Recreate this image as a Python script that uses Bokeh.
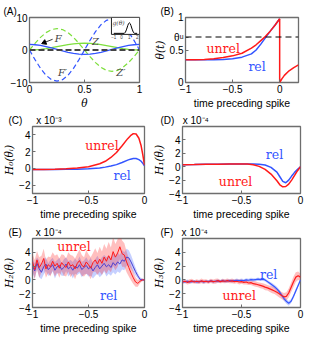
import numpy as np
from bokeh.plotting import figure
from bokeh.layouts import column, row
from bokeh.models import (Label, Span, Range1d, FixedTicker, CustomJSTickFormatter, Title)
from bokeh.embed import file_html
from bokeh.resources import INLINE

BLUE = "#3355ff"
RED = "#ff1a1a"
GREEN = "#7ddf3c"
FRAME = "#6e6e6e"
SANS = "Liberation Sans"
SERIF = "DejaVu Serif"
NB = "\u00a0"

# ---------------- Panel A ----------------
theta_A = [0, .05, .1, .15, .2, .25, .3, .35, .4, .45, .5, .55, .6, .65, .7, .75, .8, .85, .9, .95, 1]
F_A = [1.70, 1.62, 1.41, 1.07, 0.64, 0.17, -0.30, -0.73, -1.07, -1.29, -1.36, -1.29, -1.07, -0.73,
       -0.30, 0.17, 0.64, 1.07, 1.41, 1.62, 1.70]
Fp_A = [0, -2.97, -5.64, -7.77, -9.13, -9.6, -9.13, -7.77, -5.64, -2.97, 0, 2.97, 5.64, 7.77, 9.13,
        9.6, 9.13, 7.77, 5.64, 2.97, 0]
Z_A = [0, .05, .2, .43, .73, 1.05, 1.37, 1.67, 1.9, 2.05, 2.1, 2.05, 1.9, 1.67, 1.37, 1.05, .73, .43,
       .2, .05, 0]
Zp_A = [0, 2.04, 3.88, 5.34, 6.28, 6.6, 6.28, 5.34, 3.88, 2.04, 0, -2.04, -3.88, -5.34, -6.28, -6.6,
        -6.28, -5.34, -3.88, -2.04, 0]
A_xticks = [0, 0.5, 1]
A_yticks = [-10, 0, 10]
A_names = ["F", "Z", "F′", "Z′"]
A_name_x = [0.26, 0.6, 0.3, 0.83]
A_name_y = [3.6, 2.7, -6.8, -7.0]
arrowF_x = [0.21, 0.135]
arrowF_y = [3.3, 2.3]
# inset g(theta)
g_x = [-1.0, 0.35, 0.5, 0.65, 0.8, 0.9, 1.0, 1.1, 1.2, 1.35, 1.5, 1.65, 2.0]
g_y = [0, 0, 0.12, 0.4, 0.75, 0.93, 1.0, 0.93, 0.75, 0.4, 0.12, 0, 0]
g_ticks = [-1, 0, 1, 2]

# ---------------- Panel B ----------------
t_B = [-1, -0.9, -0.8, -0.7, -0.6, -0.5, -0.4, -0.3, -0.25, -0.2, -0.15, -0.1, -0.05, 0]
unrel_B = [0.35, 0.35, 0.355, 0.365, 0.385, 0.41, 0.45, 0.53, 0.58, 0.645, 0.71, 0.79, 0.88, 0.98]
rel_B = [0.35, 0.35, 0.35, 0.35, 0.355, 0.365, 0.39, 0.44, 0.5, 0.59, 0.69, 0.79, 0.88, 0.98]
t_reset = [0, 0, 0.025, 0.05, 0.1, 0.15, 0.2]
th_reset = [0.98, 0.0, 0.06, 0.11, 0.18, 0.23, 0.27]
theta_u = 0.7

# ---------------- Panel C ----------------
t_C = [-1, -0.9, -0.8, -0.7, -0.6, -0.5, -0.4, -0.35, -0.3, -0.25, -0.2, -0.15, -0.125, -0.1,
       -0.075, -0.05, -0.03, -0.015, 0]
unrel_C = [-0.12, -0.12, -0.1, -0.05, 0.05, 0.2, 0.55, 0.85, 1.3, 1.9, 2.7, 3.55, 3.9, 4.15, 4.1,
           3.6, 2.7, 1.6, 0.4]
rel_C = [-0.12, -0.12, -0.12, -0.11, -0.1, -0.05, 0.05, 0.15, 0.28, 0.45, 0.7, 0.98, 1.1, 1.18,
         1.17, 1.05, 0.85, 0.6, 0.3]

# ---------------- Panel D ----------------
t_D = [-1, -0.9, -0.8, -0.7, -0.6, -0.5, -0.45, -0.4, -0.35, -0.3, -0.25, -0.2, -0.175, -0.15,
       -0.125, -0.1, -0.075, -0.05, -0.025, 0]
unrel_D = [0.3, 0.32, 0.35, 0.38, 0.4, 0.42, 0.4, 0.3, 0.05, -0.4, -1.1, -2.1, -2.7, -3.0, -2.95,
           -2.6, -2.0, -1.3, -0.6, 0]
rel_D = [0.3, 0.32, 0.35, 0.38, 0.4, 0.42, 0.42, 0.4, 0.37, 0.25, -0.1, -0.8, -1.5, -2.2, -2.4,
         -2.0, -1.4, -0.85, -0.4, 0]

# ---------------- Panels E, F (noisy estimates with error bands) ----------------
t_N = np.round(np.arange(-50, 1) * 0.02, 2)
unrel_E = [2.6, 1.5, 2.9, 1.8, 2.3, 3.1, 1.6, 2.2, 1.9, 2.7,
           2.0, 2.4, 1.7, 2.5, 2.1, 1.8, 2.6, 2.0, 2.2, 1.6,
           2.4, 2.8, 2.1, 1.9, 2.6, 2.2, 1.7, 2.5, 2.9, 2.3,
           3.0, 2.4, 3.3, 2.7, 3.5, 2.9, 4.1, 3.3, 3.9, 4.8,
           3.8, 3.6, 2.6, 1.8, 1.0, 0.3, -0.3, -0.5, -0.2, 0.0, 0.0]
rel_E = [2.0, 1.3, 2.4, 1.6, 1.1, 1.9, 2.3, 1.5, 1.8, 2.2,
         1.4, 1.9, 2.1, 1.5, 1.8, 2.3, 1.6, 1.9, 1.4, 2.0,
         1.7, 2.2, 1.5, 1.8, 2.1, 1.6, 1.9, 1.3, 1.8, 2.2,
         1.6, 2.0, 2.4, 1.9, 2.2, 1.8, 2.5, 2.1, 2.6, 2.3,
         2.9, 2.7, 3.3, 3.2, 2.6, 1.9, 1.2, 0.6, 0.1, 0.0, 0.0]
unrel_E_err = [1.2, 1.4, 1.3, 1.5, 1.2, 1.4, 1.3, 1.2, 1.4, 1.3,
               1.5, 1.3, 1.4, 1.2, 1.5, 1.3, 1.4, 1.6, 1.3, 1.5,
               1.4, 1.6, 1.5, 1.4, 1.7, 1.5, 1.6, 1.4, 1.7, 1.6,
               1.8, 1.7, 1.9, 1.8, 2.0, 1.8, 2.1, 1.9, 2.0, 1.8,
               1.9, 1.7, 1.5, 1.3, 1.1, 0.9, 0.7, 0.5, 0.3, 0.2, 0.1]
rel_E_err = [1.0, 1.1, 0.9, 1.2, 1.0, 1.1, 1.0, 0.9, 1.1, 1.0,
             1.2, 1.0, 1.1, 0.9, 1.2, 1.0, 1.1, 1.0, 1.2, 1.1,
             1.0, 1.2, 1.1, 1.0, 1.2, 1.1, 1.3, 1.1, 1.2, 1.3,
             1.2, 1.3, 1.2, 1.4, 1.3, 1.2, 1.4, 1.3, 1.4, 1.3,
             1.4, 1.3, 1.2, 1.1, 1.0, 0.8, 0.6, 0.4, 0.3, 0.2, 0.1]
unrel_F = [-0.3, -0.2, -0.35, -0.25, -0.15, -0.3, -0.2, -0.3, -0.15, -0.25,
           -0.2, -0.3, -0.15, -0.25, -0.2, -0.1, -0.25, -0.15, -0.2, -0.1,
           -0.2, -0.15, -0.25, -0.2, -0.3, -0.25, -0.35, -0.3, -0.45, -0.4,
           -0.55, -0.6, -0.7, -0.8, -0.9, -1.05, -1.15, -1.3, -1.45, -1.6,
           -1.8, -2.0, -2.25, -2.45, -2.4, -1.9, -1.1, -0.3, 0.4, 0.6, 0.4]
rel_F = [-0.25, -0.3, -0.2, -0.3, -0.25, -0.2, -0.3, -0.25, -0.2, -0.3,
         -0.2, -0.25, -0.15, -0.25, -0.2, -0.15, -0.2, -0.1, -0.2, -0.15,
         -0.1, -0.15, -0.1, -0.05, -0.1, -0.05, -0.1, 0.0, -0.05, 0.05,
         0.0, 0.05, 0.1, 0.05, 0.1, 0.0, -0.25, -0.5, -0.75, -1.0,
         -1.3, -1.7, -2.2, -2.7, -3.1, -3.4, -3.1, -2.4, -1.6, -0.8, 0.0]
unrel_F_err = [0.3, 0.25, 0.3, 0.35, 0.3, 0.25, 0.3, 0.3, 0.35, 0.3,
               0.3, 0.25, 0.3, 0.3, 0.35, 0.3, 0.25, 0.3, 0.3, 0.3,
               0.3, 0.35, 0.3, 0.3, 0.35, 0.3, 0.3, 0.35, 0.3, 0.35,
               0.35, 0.4, 0.35, 0.4, 0.4, 0.45, 0.4, 0.45, 0.5, 0.45,
               0.5, 0.55, 0.5, 0.55, 0.6, 0.65, 0.7, 0.75, 0.7, 0.6, 0.5]
rel_F_err = [0.25, 0.2, 0.25, 0.2, 0.25, 0.2, 0.25, 0.25, 0.2, 0.25,
             0.2, 0.25, 0.2, 0.25, 0.2, 0.25, 0.2, 0.25, 0.2, 0.25,
             0.2, 0.25, 0.2, 0.25, 0.2, 0.25, 0.2, 0.25, 0.2, 0.25,
             0.25, 0.2, 0.25, 0.2, 0.25, 0.2, 0.25, 0.25, 0.3, 0.3,
             0.3, 0.3, 0.3, 0.35, 0.35, 0.35, 0.3, 0.3, 0.3, 0.25, 0.2]

t_ticks = [-1, -0.5, 0]
H_yticks = [-4, -2, 0, 2, 4]
C_yticks = [-2, 0, 2, 4]
B_yticks = [0, 0.5, theta_u, 1]

fmt = CustomJSTickFormatter(code="return String(tick).replace('-', '\u2212')")
fmtB = CustomJSTickFormatter(
    code="if (Math.abs(tick - 0.7) < 1e-9) { return '\u03b8\u1d58'; } return String(tick);")


def make_fig(w, h, xr, yr, bl, br, bt, bb, xticks, yticks):
    p = figure(width=w, height=h, x_range=Range1d(*xr), y_range=Range1d(*yr),
               output_backend="svg", toolbar_location=None,
               min_border_left=bl, min_border_right=br, min_border_top=bt, min_border_bottom=bb)
    p.grid.visible = False
    p.outline_line_color = FRAME
    p.outline_line_width = 1.3
    p.xaxis.ticker = FixedTicker(ticks=xticks)
    p.yaxis.ticker = FixedTicker(ticks=yticks)
    for ax in p.axis:
        ax.formatter = fmt
        ax.axis_line_color = None
        ax.major_tick_in = 3
        ax.major_tick_out = 0
        ax.major_tick_line_color = FRAME
        ax.minor_tick_line_color = None
        ax.major_label_text_font = SANS
        ax.major_label_text_font_size = "10px"
        ax.major_label_text_color = "black"
        ax.major_label_standoff = 2
        ax.axis_label_standoff = 1
        ax.axis_label_text_font = SANS
        ax.axis_label_text_font_size = "10.5px"
        ax.axis_label_text_font_style = "normal"
        ax.axis_label_text_color = "black"
    return p


def head(p, text, offset):
    p.add_layout(Title(text=text, align="left", offset=offset, standoff=2, text_font=SANS,
                       text_font_size="10px", text_font_style="normal", text_color="black"),
                 "above")


def word(p, x, y, text, color):
    p.add_layout(Label(x=x, y=y, text=text, text_color=color, text_font=SERIF,
                       text_font_size="12.5px", text_align="center", text_baseline="middle"))


def ylab(ax, text):
    ax.axis_label = text
    ax.axis_label_text_font = SERIF
    ax.axis_label_text_font_style = "italic"
    ax.axis_label_text_font_size = "10.5px"


LW, RW = 150, 159
H1, H2, H3 = 111, 111, 114
LB_A, LB_B, LB_C, LB_D = 29, 30, 27, 27

# ---- A ----
xrA, yrA = (0, 1), (-10, 10)
pA = make_fig(LW, H1, xrA, yrA, LB_A, 11, 17, 28, A_xticks, A_yticks)
pA.xaxis.axis_label = "θ"
pA.xaxis.axis_label_text_font = SERIF
pA.xaxis.axis_label_text_font_style = "italic"
pA.add_layout(Span(location=0, dimension="width", line_color="#444444", line_width=2,
                   line_dash="6 3"))
pA.line(theta_A, Zp_A, line_color=GREEN, line_width=1.2, line_dash="5 3")
pA.line(theta_A, Fp_A, line_color=BLUE, line_width=1.2, line_dash="5 3")
pA.line(theta_A, Z_A, line_color=GREEN, line_width=1.3)
pA.line(theta_A, F_A, line_color=BLUE, line_width=1.3)
for lx, ly, lt in zip(A_name_x, A_name_y, A_names):
    pA.add_layout(Label(x=lx, y=ly, text=lt, text_font=SERIF, text_font_style="italic",
                        text_font_size="10px", text_align="center", text_baseline="middle"))
pA.line(arrowF_x, arrowF_y, line_color="black", line_width=0.8)
pA.scatter(x=arrowF_x[1:], y=arrowF_y[1:], marker="triangle", size=5, angle=1.96,
           fill_color="black", line_color="black")

# inset: its own small linear scale placed in the top-right corner of panel A
ix0, ix1, iy0, iy1 = -1.3, 2.3, -0.1, 1.5
fx, fy = 0.745, 0.74


def inset_x(v):
    return [xrA[0] + (xrA[1] - xrA[0]) * (fx + (1 - fx) * (u - ix0) / (ix1 - ix0)) for u in v]


def inset_y(v):
    return [yrA[0] + (yrA[1] - yrA[0]) * (fy + (1 - fy) * (u - iy0) / (iy1 - iy0)) for u in v]


pA.quad(left=inset_x([ix0]), right=inset_x([ix1]), bottom=inset_y([iy0]), top=inset_y([iy1]),
        fill_color="white", line_color="#222222", line_width=1)
pA.line(inset_x(g_x), inset_y(g_y), line_color="black", line_width=1)
pA.add_layout(Label(x=inset_x([ix0])[0], y=inset_y([iy1])[0], x_offset=1, y_offset=-1,
                    text="g(θ)", text_font=SERIF, text_font_style="italic",
                    text_font_size="6px", text_baseline="top"))
for gt, gxp in zip(g_ticks, inset_x(g_ticks)):
    pA.add_layout(Label(x=gxp, y=inset_y([iy0])[0], y_offset=-1,
                        text=str(gt).replace("-", "−"), text_font=SANS,
                        text_font_size="4.5px", text_align="center", text_baseline="top"))
head(pA, "(A)", -(LB_A - 3))

# ---- B ----
xrB, yrB = (-1, 0.2), (0, 1)
pB = make_fig(RW, H1, xrB, yrB, LB_B, 11, 17, 28, t_ticks, B_yticks)
pB.xaxis.axis_label = "time preceding spike"
pB.yaxis.formatter = fmtB
ylab(pB.yaxis[0], "θ(t)")
pB.add_layout(Span(location=theta_u, dimension="width", line_color="black", line_width=1,
                   line_dash="6 4"))
pB.line(t_B, rel_B, line_color=BLUE, line_width=1.5)
pB.line(t_B, unrel_B, line_color=RED, line_width=1.5)
pB.line(t_reset, th_reset, line_color=RED, line_width=1.5)
word(pB, -0.6, 0.53, "unrel", RED)
word(pB, -0.24, 0.24, "rel", BLUE)
head(pB, "(B)", -(LB_B - 5))

# ---- C ----
xrC, yrC = (-1, 0), (-3, 5)
pC = make_fig(LW, H2, xrC, yrC, LB_C, 6, 14, 29, t_ticks, C_yticks)
pC.xaxis.axis_label = "time preceding spike"
ylab(pC.yaxis[0], "H₀(θᵢ)")
pC.line(t_C, rel_C, line_color=BLUE, line_width=1.5)
pC.line(t_C, unrel_C, line_color=RED, line_width=1.5)
word(pC, -0.38, 2.7, "unrel", RED)
word(pC, -0.2, -0.9, "rel", BLUE)
head(pC, "(C)" + NB * 5 + "x 10⁻³", -(LB_C - 3))

# ---- D ----
xrD, yrD = (-1, 0), (-4, 6)
pD = make_fig(RW, H2, xrD, yrD, LB_D, 9, 14, 29, t_ticks, H_yticks)
pD.xaxis.axis_label = "time preceding spike"
ylab(pD.yaxis[0], "H₁(θᵢ)")
pD.line(t_D, rel_D, line_color=BLUE, line_width=1.5)
pD.line(t_D, unrel_D, line_color=RED, line_width=1.5)
word(pD, -0.22, 1.8, "rel", BLUE)
word(pD, -0.55, -2.2, "unrel", RED)
head(pD, "(D)" + NB * 3 + "x 10⁻⁴", -(LB_D - 5))

# ---- E ----
xrE, yrE = (-1, 0), (-4, 6)
pE = make_fig(LW, H3, xrE, yrE, LB_C, 6, 16, 29, t_ticks, H_yticks)
pE.xaxis.axis_label = "time preceding spike"
ylab(pE.yaxis[0], "H₂(θᵢ)")
uE, rE = np.array(unrel_E), np.array(rel_E)
pE.varea(x=t_N, y1=rE - np.array(rel_E_err), y2=rE + np.array(rel_E_err),
         fill_color=BLUE, fill_alpha=0.28)
pE.varea(x=t_N, y1=uE - np.array(unrel_E_err), y2=uE + np.array(unrel_E_err),
         fill_color=RED, fill_alpha=0.28)
pE.line(t_N, rE, line_color="#4a3fd0", line_width=1)
pE.line(t_N, uE, line_color=RED, line_width=1)
word(pE, -0.63, 4.8, "unrel", RED)
word(pE, -0.32, -2.2, "rel", BLUE)
head(pE, "(E)" + NB * 5 + "x 10⁻⁴", -(LB_C - 3))

# ---- F ----
xrF, yrF = (-1, 0), (-4, 6)
pF = make_fig(RW, H3, xrF, yrF, LB_D, 9, 16, 29, t_ticks, H_yticks)
pF.xaxis.axis_label = "time preceding spike"
ylab(pF.yaxis[0], "H₃(θᵢ)")
uF, rF = np.array(unrel_F), np.array(rel_F)
pF.varea(x=t_N, y1=rF - np.array(rel_F_err), y2=rF + np.array(rel_F_err),
         fill_color=BLUE, fill_alpha=0.28)
pF.varea(x=t_N, y1=uF - np.array(unrel_F_err), y2=uF + np.array(unrel_F_err),
         fill_color=RED, fill_alpha=0.28)
pF.line(t_N, rF, line_color=BLUE, line_width=1.2)
pF.line(t_N, uF, line_color=RED, line_width=1.2)
word(pF, -0.27, 0.8, "rel", BLUE)
word(pF, -0.52, -2.2, "unrel", RED)
head(pF, "(F)" + NB * 3 + "x 10⁻⁴", -(LB_D - 5))

layout = column(row(pA, pB), row(pC, pD), row(pE, pF))
open("out.html", "w").write(file_html(layout, INLINE))
